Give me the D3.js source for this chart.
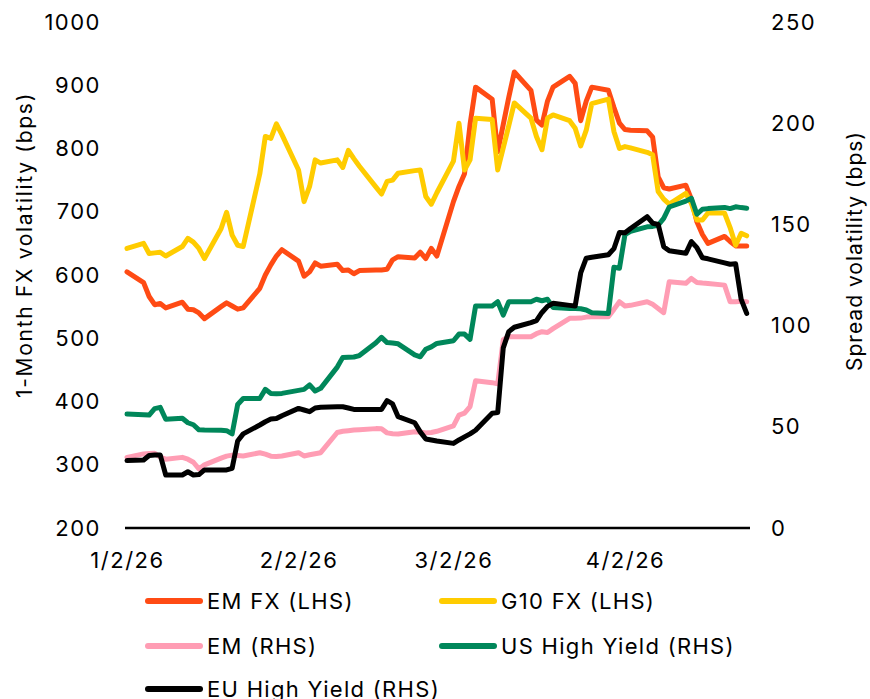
<!DOCTYPE html>
<meta charset="utf-8">
<style>
  body { margin: 0; background: #fff; }
  svg text { font-family: Inter, "Liberation Sans", sans-serif; fill: #000; }
  .tick text { font-size: 22px; letter-spacing: 1.5px; }
  .lines path { fill: none; stroke-width: 5px; stroke-linejoin: round; stroke-linecap: round; }
  .legend text { font-size: 22px; letter-spacing: 1.3px; }
</style>
<svg width="870" height="699"></svg>
<script src="https://d3js.org/d3.v7.min.js"></script>
<script>
var svg = d3.select("svg");

// business days from Jan 2 to Apr 24, 2026
var dates = d3.timeDay.range(new Date(2026, 0, 2), new Date(2026, 3, 25))
              .filter(d => d.getDay() != 0 && d.getDay() != 6);

var xTicks = [new Date(2026, 0, 2), new Date(2026, 1, 2), new Date(2026, 2, 2), new Date(2026, 3, 2)];
var leftTicks = [200, 300, 400, 500, 600, 700, 800, 900, 1000];
var rightTicks = [0, 50, 100, 150, 200, 250];

// LHS series
var emFx = [605,588,566,553,555,548, 557,546,545,540,531, 550,556,551,546,548, 579,600,616,630,640,
            622,598,605,619,614, 617,607,608,602,607, 608,608,609,624,629, 627,636,626,642,630,
            716,740,760,838,897, 878,795,838,881,921, 892,845,837,875,897, 914,903,844,875,897,
            892,865,840,830,829, 828,818,755,738,736, 742,720,684,664,650, 661,653,646,646,646];
var g10Fx = [642,650,634,635,636,630, 645,658,652,642,626, 673,699,663,647,645, 760,819,816,839,822,
             766,716,740,782,777, 782,770,797,784,772, 739,728,748,750,761, 765,766,724,712,730,
             780,840,766,782,848, 846,766,801,836,872, 848,819,798,848,853, 844,832,804,829,871,
             878,827,800,803,801, 794,790,732,720,712, 729,713,687,687,698, 698,675,647,666,662];
// RHS series
var em = [34.9,36.6,36.8,36.9,35,34, 34.9,34,32.5,29.2,31.2, 34.5,35.5,36,35.8,35.6, 37.2,36.5,35.5,35.3,35.6,
          37.2,35.6,36.2,36.7,37.2, 47.2,47.8,48.1,48.4,48.6, 49.1,49,47,46.6,46.4, 47.6,47.4,47,47.2,47.8,
          50.5,55.8,56.8,60,72.8, 71.8,71.2,93,94.5,94.5, 94.5,96,97,96.6,98.5, 103.6,103.6,103.7,104.2,104.4,
          104.4,108,111.8,109.7,110, 111.8,110.5,108.5,106.4,121.7, 120.9,123.3,121.3,121,120.8, 120,111.8,111.8,112,111.8];
var usHy = [56.3,56,55.8,59,59.6,53.7, 54.2,52,51,48.5,48.4, 48.3,48.1,46.5,61,64, 64,68.5,66.5,66.3,66.5,
            68,68.5,70.7,67.7,69, 79.5,84.3,84.4,84.5,85.2, 91.5,94.2,91.6,91.4,91, 85.5,84.6,88.3,89.5,91.2,
            92.5,95.8,95.8,93.2,109.7, 109.7,111.8,105.2,111.8,111.8, 111.8,113,112.3,113,109, 108.5,108.5,108.3,107.7,106.3,
            106,128.8,128.3,145,146.6, 148.8,149,149.6,153,158.6, 161.5,162.9,155,157.5,157.8, 158.4,157.8,158.7,158.3,158];
var euHy = [33.3,33.6,35.8,36.1,36.1,26.2, 26.2,27.8,26.2,26.4,28.7, 28.7,28.7,29.5,43,46.5, 50.9,52.5,53.8,54.1,55.5,
            59.1,58.3,57.5,59.3,59.7, 59.9,59.9,59.3,58.6,58.6, 58.6,58.6,62.9,61.3,55, 52,47.5,44,43.5,43,
            41.8,43.5,45,46.5,48.3, 56.7,57,89,97,99.2, 101.5,102.5,106.5,109.5,111, 110,109.7,126,133.3,133.8,
            135,138,146,145.9,148, 153.8,150.6,150,139,137, 135.7,141.5,138.5,133.5,133, 131,130.3,130.5,113,106];

var series = [
  {name: "EM FX (LHS)", values: emFx, axis: "L", color: "#ff4b14"},
  {name: "G10 FX (LHS)", values: g10Fx, axis: "L", color: "#ffcc00"},
  {name: "EM (RHS)", values: em, axis: "R", color: "#ff9db4"},
  {name: "US High Yield (RHS)", values: usHy, axis: "R", color: "#00875a"},
  {name: "EU High Yield (RHS)", values: euHy, axis: "R", color: "#000000"}
];

var x = d3.scaleTime().domain([dates[0], dates[dates.length - 1]]).range([127, 746.7]);
var yL = d3.scaleLinear().domain([200, 1000]).range([528, 22]);
var yR = d3.scaleLinear().domain([0, 250]).range([528, 22]);

// axes
svg.append("g")
   .attr("transform", "translate(125,0)")
   .call(d3.axisLeft(yL).tickValues(leftTicks).tickSize(0).tickPadding(24).tickFormat(d3.format("d")))
   .call(g => g.select(".domain").remove());

svg.append("g")
   .attr("transform", "translate(747,0)")
   .call(d3.axisRight(yR).tickValues(rightTicks).tickSize(0).tickPadding(24))
   .call(g => g.select(".domain").remove());

svg.append("g")
   .attr("transform", "translate(0,528)")
   .call(d3.axisBottom(x).tickValues(xTicks).tickSize(0).tickPadding(24).tickFormat(d3.timeFormat("%-m/%-d/%y")))
   .call(g => g.select(".domain").remove());

svg.append("line")
   .attr("x1", 125).attr("x2", 750)
   .attr("y1", 528).attr("y2", 528)
   .attr("stroke", "#000").attr("stroke-width", 2.5);

svg.selectAll(".tick text").attr("font-family", null).attr("font-size", null);

// axis titles
svg.append("text")
   .attr("transform", "translate(32,245) rotate(-90)")
   .attr("text-anchor", "middle")
   .style("font-size", "21px")
   .style("letter-spacing", "1.7px")
   .text("1-Month FX volatility (bps)");

svg.append("text")
   .attr("transform", "translate(862,251) rotate(-90)")
   .attr("text-anchor", "middle")
   .style("font-size", "21px")
   .style("letter-spacing", "1px")
   .text("Spread volatility (bps)");

// lines
var gLines = svg.append("g").attr("class", "lines");
series.forEach(s => {
  var y = s.axis == "L" ? yL : yR;
  var line = d3.line()
               .x((d, i) => x(dates[i]))
               .y(d => y(d));
  gLines.append("path")
        .attr("d", line(s.values))
        .attr("stroke", s.color);
});

// legend
var legendPos = [[148, 601], [442, 601], [148, 646], [442, 646], [148, 689]];
var legend = svg.append("g").attr("class", "legend")
                .selectAll("g")
                .data(series)
                .enter().append("g")
                .attr("transform", (d, i) => "translate(" + legendPos[i][0] + "," + legendPos[i][1] + ")");
legend.append("line")
      .attr("x1", 0).attr("x2", 52)
      .attr("stroke", d => d.color)
      .attr("stroke-width", 6)
      .attr("stroke-linecap", "round");
legend.append("text")
      .attr("x", 59)
      .attr("y", 8)
      .text(d => d.name);
</script>
